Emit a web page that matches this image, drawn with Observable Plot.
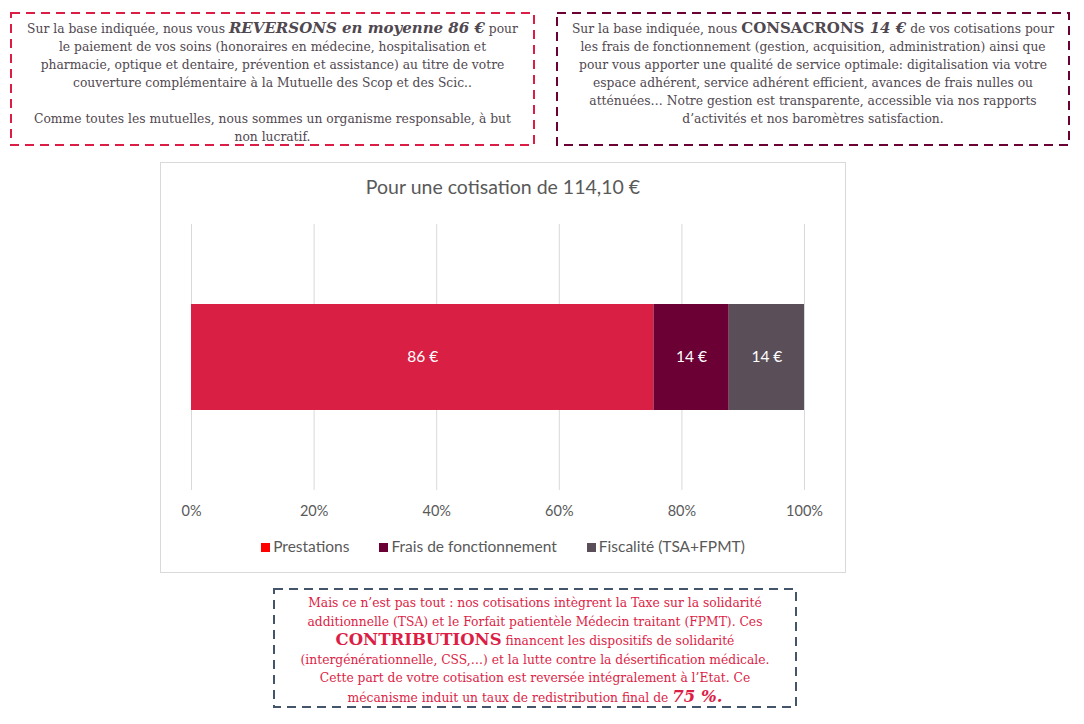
<!DOCTYPE html>
<html lang="fr">
<head>
<meta charset="utf-8">
<script src="https://cdn.jsdelivr.net/npm/d3@7"></script>
<script src="https://cdn.jsdelivr.net/npm/@observablehq/plot@0.6"></script>
<style>
  html, body { margin: 0; padding: 0; background: #fff; }
  #page { position: relative; width: 1084px; height: 724px; overflow: hidden; background: #fff; }
  #frames { position: absolute; left: 0; top: 0; pointer-events: none; }
  .box { position: absolute; box-sizing: border-box; text-align: center;
         font-family: "DejaVu Serif", "Liberation Serif", serif; font-size: 12.3px; line-height: 18px;
         white-space: nowrap; }
  #boxLeft { left: 10px; top: 12px; width: 525px; height: 134px; color: #504850; padding-top: 7px; }
  #boxRight { left: 556px; top: 12px; width: 514px; height: 134px; color: #504850; padding-top: 7px; }
  #boxBottom { left: 273px; top: 588px; width: 524px; height: 120px; color: #DC1E46; padding-top: 6px; line-height: 18.5px; }
  .big { font-size: 15px; font-weight: bold; }
  .bigger { font-size: 16.5px; font-weight: bold; }
  #chartBox { position: absolute; left: 160px; top: 162px; width: 686px; height: 411px; box-sizing: border-box; border: 1px solid #d9d9d9; }
  #chartTitle { position: absolute; left: 160px; top: 175px; width: 686px; text-align: center; font-family: Lato, "Open Sans", sans-serif; font-size: 19.5px; line-height: 24px; color: #595959; }
  #plot { position: absolute; left: 160px; top: 214px; }
  #legend { position: absolute; left: 160px; top: 536px; width: 686px; text-align: center; font-family: Lato, "Open Sans", sans-serif; font-size: 15.5px; line-height: 20px; color: #595959; white-space: nowrap; }
  .item { display: inline-block; margin: 0 15px; }
  .sw { display: inline-block; width: 9px; height: 9px; margin-right: 3px; vertical-align: 0px; }
</style>
</head>
<body>
<div id="page">
  <svg id="frames" width="1084" height="724">
    <rect x="11" y="13" width="523" height="132" fill="none" stroke="#DC1E46" stroke-width="2" stroke-dasharray="9 6"/>
    <rect x="557" y="13" width="512" height="132" fill="none" stroke="#6B0035" stroke-width="2" stroke-dasharray="9 6"/>
    <rect x="274" y="589" width="522" height="118" fill="none" stroke="#44546A" stroke-width="2" stroke-dasharray="9 6"/>
  </svg>
  <div class="box" id="boxLeft">
    Sur la base indiquée, nous vous <span class="big"><i>REVERSONS en moyenne 86 €</i></span> pour<br>
    le paiement de vos soins (honoraires en médecine, hospitalisation et<br>
    pharmacie, optique et dentaire, prévention et assistance) au titre de votre<br>
    couverture complémentaire à la Mutuelle des Scop et des Scic..<br>
    <br>
    Comme toutes les mutuelles, nous sommes un organisme responsable, à but<br>
    non lucratif.
  </div>
  <div class="box" id="boxRight">
    Sur la base indiquée, nous <span class="big">CONSACRONS <i>14 €</i></span> de vos cotisations pour<br>
    les frais de fonctionnement (gestion, acquisition, administration) ainsi que<br>
    pour vous apporter une qualité de service optimale: digitalisation via votre<br>
    espace adhérent, service adhérent efficient, avances de frais nulles ou<br>
    atténuées… Notre gestion est transparente, accessible via nos rapports<br>
    d’activités et nos baromètres satisfaction.
  </div>
  <div id="chartBox"></div>
  <div id="chartTitle"></div>
  <div id="plot"></div>
  <div id="legend"></div>
  <div class="box" id="boxBottom">
    Mais ce n’est pas tout : nos cotisations intègrent la Taxe sur la solidarité<br>
    additionnelle (TSA) et le Forfait patientèle Médecin traitant (FPMT). Ces<br>
    <span class="bigger">CONTRIBUTIONS</span> financent les dispositifs de solidarité<br>
    (intergénérationnelle, CSS,…) et la lutte contre la désertification médicale.<br>
    Cette part de votre cotisation est reversée intégralement à l’Etat. Ce<br>
    mécanisme induit un taux de redistribution final de <span class="bigger"><i>75 %.</i></span>
  </div>
</div>
<script>
const chartTitle = "Pour une cotisation de 114,10 €";
const rowName = "Cotisation";
const categories = ["Prestations", "Frais de fonctionnement", "Fiscalité (TSA+FPMT)"];
const values = [86, 14, 14];
const valueLabels = ["86 €", "14 €", "14 €"];
const barColors = ["#D91F43", "#6B0035", "#5A4F58"];
const legendColors = ["#FF0000", "#6B0035", "#5A4F58"];
const xTicks = [0, 0.2, 0.4, 0.6, 0.8, 1];

const data = categories.map((c, i) => ({row: rowName, cat: c, value: values[i], label: valueLabels[i]}));

document.getElementById("chartTitle").textContent = chartTitle;

const chart = Plot.plot({
  width: 686,
  height: 314,
  marginLeft: 31,
  marginRight: 42,
  marginTop: 10,
  marginBottom: 38,
  style: {fontFamily: "Lato, 'Open Sans', sans-serif", fontSize: "14.5px", color: "#595959", background: "transparent", overflow: "visible"},
  x: {domain: [0, 1], label: null},
  y: {domain: [rowName], axis: null, padding: 0.43},
  color: {domain: categories, range: barColors},
  marks: [
    Plot.gridX(xTicks, {stroke: "#d9d9d9", strokeOpacity: 1, strokeWidth: 1}),
    Plot.axisX({ticks: xTicks, tickFormat: d3.format(".0%"), tickSize: 0, tickPadding: 15, label: null, fill: "#595959"}),
    Plot.barX(data, Plot.stackX({x: "value", y: "row", fill: "cat", offset: "normalize", order: null})),
    Plot.text(data, Plot.stackX({x: "value", y: "row", text: "label", offset: "normalize", order: null, fill: "white", fontSize: 15.5}))
  ]
});
document.getElementById("plot").appendChild(chart);

const legend = document.getElementById("legend");
categories.forEach((c, i) => {
  const item = document.createElement("span");
  item.className = "item";
  const sw = document.createElement("span");
  sw.className = "sw";
  sw.style.background = legendColors[i];
  item.appendChild(sw);
  item.appendChild(document.createTextNode(c));
  legend.appendChild(item);
});
</script>
</body>
</html>
